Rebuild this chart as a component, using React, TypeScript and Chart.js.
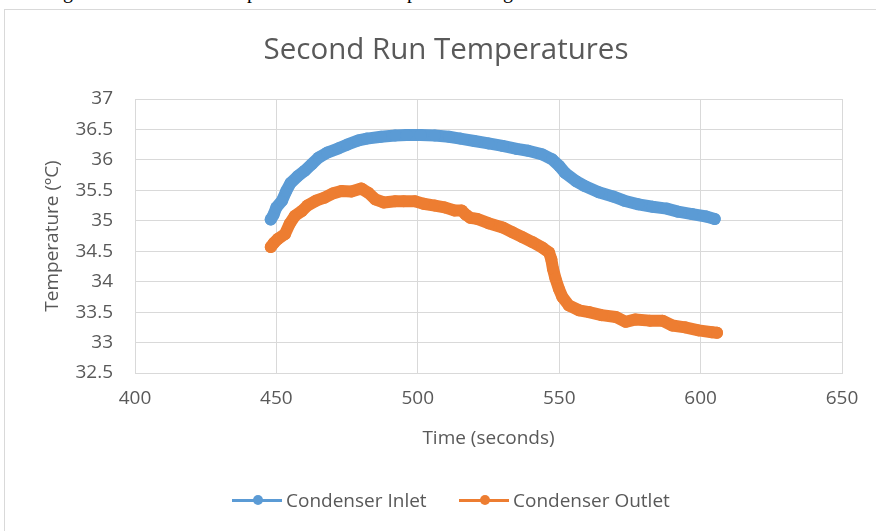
import React, { useEffect, useRef } from "react";
import { Chart, registerables } from "chart.js";

Chart.register(...registerables);

const title = "Second Run Temperatures";
const xTitle = "Time (seconds)";
const yTitle = "Temperature (ºC)";
const seriesNames = ["Condenser Inlet", "Condenser Outlet"];
const seriesColors = ["#5B9BD5", "#ED7D31"];

const inletTime = [448, 449, 450, 452, 453.5, 455, 457.5, 460, 462.5, 465, 468, 472, 475, 479, 482, 487, 492, 496, 501, 506, 511, 515, 520, 525, 530, 535, 539, 544, 547.5, 550, 552, 556, 559, 564, 569, 573, 578, 583, 588, 592, 597, 602, 605];
const inletTemp = [35.02, 35.1, 35.22, 35.33, 35.49, 35.62, 35.73, 35.82, 35.93, 36.04, 36.12, 36.19, 36.25, 36.32, 36.35, 36.38, 36.4, 36.41, 36.41, 36.4, 36.38, 36.35, 36.31, 36.27, 36.23, 36.18, 36.15, 36.09, 36.01, 35.9, 35.79, 35.65, 35.57, 35.47, 35.4, 35.33, 35.27, 35.23, 35.2, 35.15, 35.11, 35.07, 35.03];

const outletTime = [448, 449, 450.5, 453, 454.7, 456.5, 459, 461, 464, 467, 470, 473, 476.5, 480, 482.5, 485, 488, 492, 495, 499, 502, 506, 509.5, 513, 515.5, 517, 518.5, 521, 525, 530, 533.5, 537, 540.5, 544, 546.4, 547.2, 547.8, 548.7, 549.9, 551.1, 553.4, 557, 560.5, 565, 570, 573.5, 577, 582, 586.5, 590, 594.5, 599.3, 604, 605.8];
const outletTemp = [34.57, 34.63, 34.7, 34.78, 34.95, 35.08, 35.16, 35.25, 35.33, 35.38, 35.45, 35.49, 35.48, 35.53, 35.46, 35.35, 35.3, 35.32, 35.32, 35.32, 35.28, 35.25, 35.22, 35.17, 35.17, 35.1, 35.05, 35.03, 34.96, 34.89, 34.81, 34.73, 34.65, 34.56, 34.48, 34.37, 34.21, 34.05, 33.88, 33.75, 33.61, 33.53, 33.5, 33.45, 33.42, 33.34, 33.38, 33.36, 33.36, 33.28, 33.25, 33.2, 33.17, 33.16];

const xMin = 400, xMax = 650, xStep = 50;
const yMin = 32.5, yMax = 37, yStep = 0.5;

const FONT = "'Open Sans', sans-serif";
const TEXT = "#595959";
const GRID = "#d9d9d9";

export default function App() {
  const ref = useRef<HTMLCanvasElement | null>(null);

  useEffect(() => {
    if (!ref.current) return;
    const toPts = (xs: number[], ys: number[]) => xs.map((x, i) => ({ x, y: ys[i] }));
    const ds = (i: number, xs: number[], ys: number[]) => ({
      label: seriesNames[i],
      data: toPts(xs, ys),
      showLine: true,
      borderColor: seriesColors[i],
      backgroundColor: seriesColors[i],
      borderWidth: 12,
      borderJoinStyle: "round",
      borderCapStyle: "round",
      pointRadius: 6,
      pointBorderWidth: 0,
    });
    const chart = new Chart(ref.current, {
      type: "scatter",
      data: {
        datasets: [ds(0, inletTime, inletTemp), ds(1, outletTime, outletTemp)],
      },
      options: {
        animation: false,
        responsive: false,
        devicePixelRatio: 1,
        layout: { padding: { left: 10, right: 34, top: 99, bottom: 81.3 } },
        plugins: {
          legend: { display: false },
          title: { display: false },
          tooltip: { enabled: false },
        },
        scales: {
          x: {
            type: "linear",
            min: xMin,
            max: xMax,
            ticks: { stepSize: xStep, padding: 14, color: TEXT, font: { family: FONT, size: 19 }, callback: (v: any) => String(Number(v)) },
            grid: { color: GRID, drawTicks: false },
            border: { color: GRID },
            title: { display: true, text: xTitle, color: TEXT, font: { family: FONT, size: 19 }, padding: { top: 0, bottom: 0 } },
            afterFit: (s: any) => { s.height = 76.7; },
          },
          y: {
            type: "linear",
            min: yMin,
            max: yMax,
            ticks: { stepSize: yStep, padding: 22, color: TEXT, font: { family: FONT, size: 19 }, callback: (v: any) => String(Math.round(Number(v) * 10) / 10) },
            grid: { color: GRID, drawTicks: false },
            border: { color: GRID },
            title: { display: true, text: yTitle, color: TEXT, font: { family: FONT, size: 19 }, padding: { top: 31.3, bottom: 0 } },
            afterFit: (s: any) => { s.width = 125; },
          },
        },
      },
    } as any);
    return () => chart.destroy();
  }, []);

  const legendText: React.CSSProperties = {
    position: "absolute",
    top: 500,
    transform: "translateY(-50%)",
    fontFamily: FONT,
    fontSize: 19,
    color: TEXT,
    whiteSpace: "nowrap",
    lineHeight: 1,
  };

  return (
    <div style={{ position: "fixed", left: 0, top: 0, width: 876, height: 531, overflow: "hidden", background: "#fff" }}>
      <div style={{ position: "absolute", left: 0, top: 0, width: 876, height: 5, overflow: "hidden", fontFamily: "'Liberation Serif', serif", fontSize: 20, color: "#000" }}>
        <span style={{ position: "absolute", left: 63, top: -20, lineHeight: "23px" }}>g</span>
        <span style={{ position: "absolute", left: 247, top: -20, lineHeight: "23px" }}>p</span>
        <span style={{ position: "absolute", left: 407, top: -20, lineHeight: "23px" }}>p</span>
        <span style={{ position: "absolute", left: 503, top: -20, lineHeight: "23px" }}>g</span>
      </div>
      <div style={{ position: "absolute", left: 4, top: 9, width: 900, height: 560, border: `1px solid ${GRID}` }} />
      <canvas ref={ref} width={876} height={531} style={{ position: "absolute", left: 0, top: 0, width: 876, height: 531 }} />
      <div style={{ position: "absolute", left: 0, width: 892, top: 48, transform: "translateY(-50%)", textAlign: "center", fontFamily: FONT, fontSize: 29.5, color: TEXT, lineHeight: 1 }}>
        {title}
      </div>
      <div style={{ position: "absolute", left: 232, top: 499, width: 50, height: 3, background: seriesColors[0] }} />
      <div style={{ position: "absolute", left: 253, top: 495, width: 10, height: 10, borderRadius: 5, background: seriesColors[0] }} />
      <div style={{ ...legendText, left: 286 }}>{seriesNames[0]}</div>
      <div style={{ position: "absolute", left: 459, top: 499, width: 50, height: 3, background: seriesColors[1] }} />
      <div style={{ position: "absolute", left: 480, top: 495, width: 10, height: 10, borderRadius: 5, background: seriesColors[1] }} />
      <div style={{ ...legendText, left: 513 }}>{seriesNames[1]}</div>
    </div>
  );
}
